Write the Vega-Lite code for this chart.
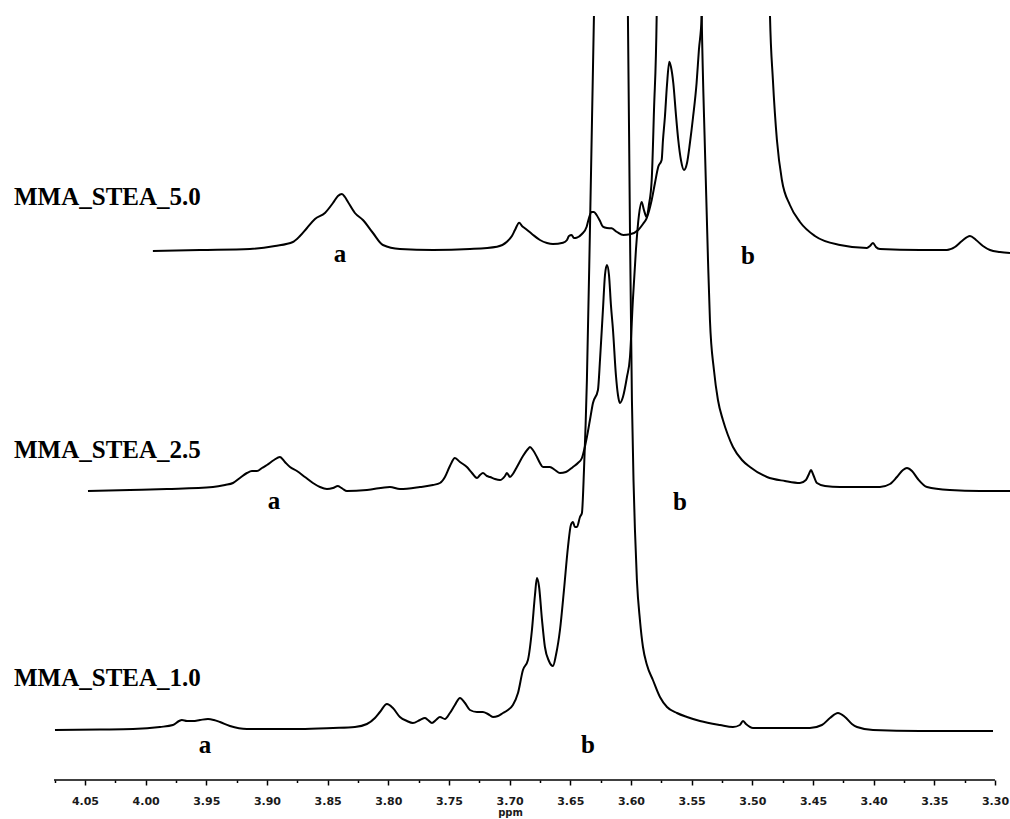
{
  "$schema": "https://vega.github.io/schema/vega-lite/v6.json",
  "width": 956,
  "height": 764,
  "autosize": {"type": "none"},
  "padding": {"left": 54, "top": 16, "right": 0, "bottom": 39},
  "background": "white",
  "config": {"view": {"stroke": null}},
  "datasets": {
    "spectra": [
      {"sample":"1.0","ppm":4.0747,"intensity":50},{"sample":"1.0","ppm":4.0376,"intensity":50.5},{"sample":"1.0","ppm":4.0104,"intensity":51},{"sample":"1.0","ppm":3.9882,"intensity":53},{"sample":"1.0","ppm":3.9775,"intensity":55},{"sample":"1.0","ppm":3.9725,"intensity":59},{"sample":"1.0","ppm":3.9701,"intensity":60},{"sample":"1.0","ppm":3.9659,"intensity":59},{"sample":"1.0","ppm":3.961,"intensity":59},{"sample":"1.0","ppm":3.9552,"intensity":60},{"sample":"1.0","ppm":3.9486,"intensity":61},{"sample":"1.0","ppm":3.9437,"intensity":60},{"sample":"1.0","ppm":3.9387,"intensity":58},{"sample":"1.0","ppm":3.9305,"intensity":54},{"sample":"1.0","ppm":3.9165,"intensity":51},{"sample":"1.0","ppm":3.8728,"intensity":51},{"sample":"1.0","ppm":3.8456,"intensity":52},{"sample":"1.0","ppm":3.8275,"intensity":53},{"sample":"1.0","ppm":3.8176,"intensity":56},{"sample":"1.0","ppm":3.811,"intensity":62},{"sample":"1.0","ppm":3.8069,"intensity":68},{"sample":"1.0","ppm":3.8011,"intensity":76},{"sample":"1.0","ppm":3.7962,"intensity":72},{"sample":"1.0","ppm":3.7904,"intensity":63},{"sample":"1.0","ppm":3.7846,"intensity":59},{"sample":"1.0","ppm":3.7797,"intensity":57},{"sample":"1.0","ppm":3.7739,"intensity":60},{"sample":"1.0","ppm":3.7698,"intensity":62},{"sample":"1.0","ppm":3.7673,"intensity":60},{"sample":"1.0","ppm":3.764,"intensity":57},{"sample":"1.0","ppm":3.7607,"intensity":60},{"sample":"1.0","ppm":3.7574,"intensity":63},{"sample":"1.0","ppm":3.7533,"intensity":61},{"sample":"1.0","ppm":3.7492,"intensity":67},{"sample":"1.0","ppm":3.7451,"intensity":75},{"sample":"1.0","ppm":3.7409,"intensity":82},{"sample":"1.0","ppm":3.7368,"intensity":77},{"sample":"1.0","ppm":3.7327,"intensity":70},{"sample":"1.0","ppm":3.7269,"intensity":68},{"sample":"1.0","ppm":3.722,"intensity":68},{"sample":"1.0","ppm":3.7179,"intensity":66},{"sample":"1.0","ppm":3.7137,"intensity":63},{"sample":"1.0","ppm":3.7096,"intensity":64},{"sample":"1.0","ppm":3.7055,"intensity":67},{"sample":"1.0","ppm":3.7014,"intensity":70},{"sample":"1.0","ppm":3.6973,"intensity":75},{"sample":"1.0","ppm":3.6931,"intensity":87},{"sample":"1.0","ppm":3.689,"intensity":110},{"sample":"1.0","ppm":3.6849,"intensity":120},{"sample":"1.0","ppm":3.6816,"intensity":150},{"sample":"1.0","ppm":3.6791,"intensity":185},{"sample":"1.0","ppm":3.6775,"intensity":202},{"sample":"1.0","ppm":3.6758,"intensity":194},{"sample":"1.0","ppm":3.6733,"intensity":160},{"sample":"1.0","ppm":3.6709,"intensity":133},{"sample":"1.0","ppm":3.6676,"intensity":119},{"sample":"1.0","ppm":3.6643,"intensity":114},{"sample":"1.0","ppm":3.6618,"intensity":125},{"sample":"1.0","ppm":3.6585,"intensity":150},{"sample":"1.0","ppm":3.6552,"intensity":190},{"sample":"1.0","ppm":3.6519,"intensity":233},{"sample":"1.0","ppm":3.6495,"intensity":255},{"sample":"1.0","ppm":3.6478,"intensity":258},{"sample":"1.0","ppm":3.6462,"intensity":253},{"sample":"1.0","ppm":3.6445,"intensity":253},{"sample":"1.0","ppm":3.642,"intensity":263},{"sample":"1.0","ppm":3.6404,"intensity":267},{"sample":"1.0","ppm":3.6387,"intensity":310},{"sample":"1.0","ppm":3.6363,"intensity":400},{"sample":"1.0","ppm":3.6338,"intensity":550},{"sample":"1.0","ppm":3.6321,"intensity":660},{"sample":"1.0","ppm":3.6305,"intensity":764},{"sample":"1.0","ppm":3.6288,"intensity":880},{"sample":"1.0","ppm":3.6173,"intensity":1180},{"sample":"1.0","ppm":3.6041,"intensity":880},{"sample":"1.0","ppm":3.6025,"intensity":764},{"sample":"1.0","ppm":3.6008,"intensity":550},{"sample":"1.0","ppm":3.5992,"intensity":380},{"sample":"1.0","ppm":3.5979,"intensity":300},{"sample":"1.0","ppm":3.5967,"intensity":250},{"sample":"1.0","ppm":3.5951,"intensity":200},{"sample":"1.0","ppm":3.5926,"intensity":160},{"sample":"1.0","ppm":3.5901,"intensity":133},{"sample":"1.0","ppm":3.5868,"intensity":115},{"sample":"1.0","ppm":3.5819,"intensity":100},{"sample":"1.0","ppm":3.5761,"intensity":83},{"sample":"1.0","ppm":3.5703,"intensity":73},{"sample":"1.0","ppm":3.5621,"intensity":67},{"sample":"1.0","ppm":3.5538,"intensity":63},{"sample":"1.0","ppm":3.5431,"intensity":59},{"sample":"1.0","ppm":3.5266,"intensity":55},{"sample":"1.0","ppm":3.5159,"intensity":53},{"sample":"1.0","ppm":3.5102,"intensity":55},{"sample":"1.0","ppm":3.5077,"intensity":59},{"sample":"1.0","ppm":3.5052,"intensity":56},{"sample":"1.0","ppm":3.4994,"intensity":52},{"sample":"1.0","ppm":3.4772,"intensity":52},{"sample":"1.0","ppm":3.4525,"intensity":52},{"sample":"1.0","ppm":3.4426,"intensity":55},{"sample":"1.0","ppm":3.436,"intensity":62},{"sample":"1.0","ppm":3.4294,"intensity":67},{"sample":"1.0","ppm":3.4236,"intensity":63},{"sample":"1.0","ppm":3.4179,"intensity":56},{"sample":"1.0","ppm":3.4137,"intensity":53},{"sample":"1.0","ppm":3.4005,"intensity":50},{"sample":"1.0","ppm":3.3618,"intensity":49},{"sample":"1.0","ppm":3.3016,"intensity":49},

      {"sample":"2.5","ppm":4.0475,"intensity":289},{"sample":"2.5","ppm":4.0129,"intensity":290},{"sample":"2.5","ppm":3.9824,"intensity":291},{"sample":"2.5","ppm":3.9445,"intensity":293},{"sample":"2.5","ppm":3.9346,"intensity":295},{"sample":"2.5","ppm":3.928,"intensity":297},{"sample":"2.5","ppm":3.9223,"intensity":302},{"sample":"2.5","ppm":3.9165,"intensity":307},{"sample":"2.5","ppm":3.9124,"intensity":309},{"sample":"2.5","ppm":3.9082,"intensity":309},{"sample":"2.5","ppm":3.9041,"intensity":312},{"sample":"2.5","ppm":3.9,"intensity":315},{"sample":"2.5","ppm":3.8942,"intensity":320},{"sample":"2.5","ppm":3.8893,"intensity":323},{"sample":"2.5","ppm":3.8852,"intensity":318},{"sample":"2.5","ppm":3.881,"intensity":313},{"sample":"2.5","ppm":3.8753,"intensity":309},{"sample":"2.5","ppm":3.8687,"intensity":303},{"sample":"2.5","ppm":3.8621,"intensity":297},{"sample":"2.5","ppm":3.8563,"intensity":293},{"sample":"2.5","ppm":3.8505,"intensity":291},{"sample":"2.5","ppm":3.8456,"intensity":292},{"sample":"2.5","ppm":3.8415,"intensity":294},{"sample":"2.5","ppm":3.8398,"intensity":293},{"sample":"2.5","ppm":3.8374,"intensity":291},{"sample":"2.5","ppm":3.8341,"intensity":289},{"sample":"2.5","ppm":3.8176,"intensity":290},{"sample":"2.5","ppm":3.7986,"intensity":293},{"sample":"2.5","ppm":3.7904,"intensity":291},{"sample":"2.5","ppm":3.7739,"intensity":293},{"sample":"2.5","ppm":3.7632,"intensity":295},{"sample":"2.5","ppm":3.7574,"intensity":297},{"sample":"2.5","ppm":3.7533,"intensity":303},{"sample":"2.5","ppm":3.7492,"intensity":314},{"sample":"2.5","ppm":3.7451,"intensity":322},{"sample":"2.5","ppm":3.7409,"intensity":318},{"sample":"2.5","ppm":3.7352,"intensity":313},{"sample":"2.5","ppm":3.731,"intensity":307},{"sample":"2.5","ppm":3.7269,"intensity":302},{"sample":"2.5","ppm":3.7244,"intensity":305},{"sample":"2.5","ppm":3.722,"intensity":307},{"sample":"2.5","ppm":3.7187,"intensity":304},{"sample":"2.5","ppm":3.7162,"intensity":303},{"sample":"2.5","ppm":3.7121,"intensity":301},{"sample":"2.5","ppm":3.708,"intensity":300},{"sample":"2.5","ppm":3.7038,"intensity":304},{"sample":"2.5","ppm":3.7022,"intensity":307},{"sample":"2.5","ppm":3.6997,"intensity":303},{"sample":"2.5","ppm":3.6973,"intensity":306},{"sample":"2.5","ppm":3.694,"intensity":313},{"sample":"2.5","ppm":3.689,"intensity":324},{"sample":"2.5","ppm":3.6849,"intensity":331},{"sample":"2.5","ppm":3.6832,"intensity":333},{"sample":"2.5","ppm":3.6808,"intensity":330},{"sample":"2.5","ppm":3.6775,"intensity":323},{"sample":"2.5","ppm":3.675,"intensity":317},{"sample":"2.5","ppm":3.6725,"intensity":313},{"sample":"2.5","ppm":3.6668,"intensity":313},{"sample":"2.5","ppm":3.6626,"intensity":310},{"sample":"2.5","ppm":3.6585,"intensity":307},{"sample":"2.5","ppm":3.6536,"intensity":308},{"sample":"2.5","ppm":3.6478,"intensity":313},{"sample":"2.5","ppm":3.6437,"intensity":317},{"sample":"2.5","ppm":3.6404,"intensity":322},{"sample":"2.5","ppm":3.6363,"intensity":343},{"sample":"2.5","ppm":3.6338,"intensity":360},{"sample":"2.5","ppm":3.6313,"intensity":377},{"sample":"2.5","ppm":3.6272,"intensity":390},{"sample":"2.5","ppm":3.6255,"intensity":420},{"sample":"2.5","ppm":3.6231,"intensity":470},{"sample":"2.5","ppm":3.6214,"intensity":505},{"sample":"2.5","ppm":3.6198,"intensity":515},{"sample":"2.5","ppm":3.6181,"intensity":505},{"sample":"2.5","ppm":3.6165,"intensity":475},{"sample":"2.5","ppm":3.6148,"intensity":450},{"sample":"2.5","ppm":3.6124,"intensity":405},{"sample":"2.5","ppm":3.6107,"intensity":385},{"sample":"2.5","ppm":3.6091,"intensity":377},{"sample":"2.5","ppm":3.6066,"intensity":383},{"sample":"2.5","ppm":3.6033,"intensity":403},{"sample":"2.5","ppm":3.6008,"intensity":423},{"sample":"2.5","ppm":3.5984,"intensity":480},{"sample":"2.5","ppm":3.5959,"intensity":530},{"sample":"2.5","ppm":3.5934,"intensity":565},{"sample":"2.5","ppm":3.5912,"intensity":578},{"sample":"2.5","ppm":3.5893,"intensity":570},{"sample":"2.5","ppm":3.5871,"intensity":563},{"sample":"2.5","ppm":3.5852,"intensity":575},{"sample":"2.5","ppm":3.5829,"intensity":600},{"sample":"2.5","ppm":3.581,"intensity":670},{"sample":"2.5","ppm":3.5788,"intensity":764},{"sample":"2.5","ppm":3.5778,"intensity":880},{"sample":"2.5","ppm":3.5596,"intensity":1180},{"sample":"2.5","ppm":3.5431,"intensity":880},{"sample":"2.5","ppm":3.5417,"intensity":764},{"sample":"2.5","ppm":3.539,"intensity":630},{"sample":"2.5","ppm":3.5365,"intensity":520},{"sample":"2.5","ppm":3.5349,"intensity":460},{"sample":"2.5","ppm":3.5316,"intensity":410},{"sample":"2.5","ppm":3.5283,"intensity":380},{"sample":"2.5","ppm":3.5242,"intensity":360},{"sample":"2.5","ppm":3.5201,"intensity":345},{"sample":"2.5","ppm":3.5159,"intensity":333},{"sample":"2.5","ppm":3.5085,"intensity":320},{"sample":"2.5","ppm":3.5019,"intensity":313},{"sample":"2.5","ppm":3.4879,"intensity":303},{"sample":"2.5","ppm":3.4731,"intensity":299},{"sample":"2.5","ppm":3.4607,"intensity":297},{"sample":"2.5","ppm":3.4558,"intensity":300},{"sample":"2.5","ppm":3.4533,"intensity":306},{"sample":"2.5","ppm":3.4516,"intensity":310},{"sample":"2.5","ppm":3.45,"intensity":306},{"sample":"2.5","ppm":3.4467,"intensity":297},{"sample":"2.5","ppm":3.4401,"intensity":294},{"sample":"2.5","ppm":3.4277,"intensity":293},{"sample":"2.5","ppm":3.3948,"intensity":293},{"sample":"2.5","ppm":3.3865,"intensity":296},{"sample":"2.5","ppm":3.3808,"intensity":303},{"sample":"2.5","ppm":3.3758,"intensity":310},{"sample":"2.5","ppm":3.3725,"intensity":312},{"sample":"2.5","ppm":3.3684,"intensity":309},{"sample":"2.5","ppm":3.3635,"intensity":301},{"sample":"2.5","ppm":3.356,"intensity":293},{"sample":"2.5","ppm":3.3371,"intensity":290},{"sample":"2.5","ppm":3.3124,"intensity":289},{"sample":"2.5","ppm":3.2876,"intensity":289},

      {"sample":"5.0","ppm":3.994,"intensity":529},{"sample":"5.0","ppm":3.9552,"intensity":530},{"sample":"5.0","ppm":3.914,"intensity":531},{"sample":"5.0","ppm":3.8934,"intensity":534},{"sample":"5.0","ppm":3.8786,"intensity":538},{"sample":"5.0","ppm":3.8728,"intensity":544},{"sample":"5.0","ppm":3.867,"intensity":552},{"sample":"5.0","ppm":3.8604,"intensity":561},{"sample":"5.0","ppm":3.8522,"intensity":567},{"sample":"5.0","ppm":3.8456,"intensity":577},{"sample":"5.0","ppm":3.8415,"intensity":584},{"sample":"5.0","ppm":3.8382,"intensity":586},{"sample":"5.0","ppm":3.8357,"intensity":583},{"sample":"5.0","ppm":3.8332,"intensity":578},{"sample":"5.0","ppm":3.8275,"intensity":567},{"sample":"5.0","ppm":3.8209,"intensity":560},{"sample":"5.0","ppm":3.8126,"intensity":547},{"sample":"5.0","ppm":3.8044,"intensity":535},{"sample":"5.0","ppm":3.7904,"intensity":531},{"sample":"5.0","ppm":3.7632,"intensity":530},{"sample":"5.0","ppm":3.7327,"intensity":531},{"sample":"5.0","ppm":3.7104,"intensity":533.3},{"sample":"5.0","ppm":3.7022,"intensity":538.3},{"sample":"5.0","ppm":3.6981,"intensity":544},{"sample":"5.0","ppm":3.6956,"intensity":550},{"sample":"5.0","ppm":3.6921,"intensity":557.3},{"sample":"5.0","ppm":3.6898,"intensity":554},{"sample":"5.0","ppm":3.6874,"intensity":551.7},{"sample":"5.0","ppm":3.6816,"intensity":546},{"sample":"5.0","ppm":3.675,"intensity":540},{"sample":"5.0","ppm":3.6692,"intensity":537},{"sample":"5.0","ppm":3.6643,"intensity":536},{"sample":"5.0","ppm":3.656,"intensity":537.3},{"sample":"5.0","ppm":3.6527,"intensity":540},{"sample":"5.0","ppm":3.6511,"intensity":544},{"sample":"5.0","ppm":3.6489,"intensity":545},{"sample":"5.0","ppm":3.647,"intensity":542},{"sample":"5.0","ppm":3.6448,"intensity":542.3},{"sample":"5.0","ppm":3.6404,"intensity":546},{"sample":"5.0","ppm":3.6365,"intensity":553.3},{"sample":"5.0","ppm":3.6346,"intensity":562},{"sample":"5.0","ppm":3.6324,"intensity":568},{"sample":"5.0","ppm":3.6305,"intensity":568},{"sample":"5.0","ppm":3.6283,"intensity":565},{"sample":"5.0","ppm":3.6255,"intensity":559},{"sample":"5.0","ppm":3.6231,"intensity":553.3},{"sample":"5.0","ppm":3.6198,"intensity":552},{"sample":"5.0","ppm":3.6159,"intensity":551.7},{"sample":"5.0","ppm":3.6115,"intensity":548},{"sample":"5.0","ppm":3.6063,"intensity":545},{"sample":"5.0","ppm":3.6008,"intensity":545.7},{"sample":"5.0","ppm":3.594,"intensity":550},{"sample":"5.0","ppm":3.5901,"intensity":556},{"sample":"5.0","ppm":3.5871,"intensity":561.7},{"sample":"5.0","ppm":3.5829,"intensity":580},{"sample":"5.0","ppm":3.5802,"intensity":597},{"sample":"5.0","ppm":3.5775,"intensity":613.3},{"sample":"5.0","ppm":3.5747,"intensity":620},{"sample":"5.0","ppm":3.5736,"intensity":640},{"sample":"5.0","ppm":3.572,"intensity":663.3},{"sample":"5.0","ppm":3.5703,"intensity":695},{"sample":"5.0","ppm":3.5684,"intensity":718.3},{"sample":"5.0","ppm":3.567,"intensity":713},{"sample":"5.0","ppm":3.5651,"intensity":697},{"sample":"5.0","ppm":3.5629,"intensity":665},{"sample":"5.0","ppm":3.561,"intensity":640},{"sample":"5.0","ppm":3.5588,"intensity":620},{"sample":"5.0","ppm":3.5563,"intensity":610},{"sample":"5.0","ppm":3.5538,"intensity":617},{"sample":"5.0","ppm":3.5514,"intensity":637},{"sample":"5.0","ppm":3.5489,"intensity":662},{"sample":"5.0","ppm":3.5459,"intensity":697},{"sample":"5.0","ppm":3.544,"intensity":730},{"sample":"5.0","ppm":3.5417,"intensity":764},{"sample":"5.0","ppm":3.5398,"intensity":880},{"sample":"5.0","ppm":3.5135,"intensity":1280},{"sample":"5.0","ppm":3.4871,"intensity":880},{"sample":"5.0","ppm":3.4854,"intensity":764},{"sample":"5.0","ppm":3.483,"intensity":700},{"sample":"5.0","ppm":3.4797,"intensity":640},{"sample":"5.0","ppm":3.4756,"intensity":600},{"sample":"5.0","ppm":3.469,"intensity":575},{"sample":"5.0","ppm":3.4607,"intensity":558},{"sample":"5.0","ppm":3.4484,"intensity":544},{"sample":"5.0","ppm":3.4277,"intensity":535},{"sample":"5.0","ppm":3.4055,"intensity":532},{"sample":"5.0","ppm":3.403,"intensity":534},{"sample":"5.0","ppm":3.4005,"intensity":537},{"sample":"5.0","ppm":3.3981,"intensity":533},{"sample":"5.0","ppm":3.3948,"intensity":531},{"sample":"5.0","ppm":3.3618,"intensity":530},{"sample":"5.0","ppm":3.3396,"intensity":530},{"sample":"5.0","ppm":3.333,"intensity":533},{"sample":"5.0","ppm":3.3272,"intensity":539},{"sample":"5.0","ppm":3.3206,"intensity":544},{"sample":"5.0","ppm":3.3156,"intensity":540},{"sample":"5.0","ppm":3.3099,"intensity":534},{"sample":"5.0","ppm":3.3041,"intensity":530},{"sample":"5.0","ppm":3.2959,"intensity":528},{"sample":"5.0","ppm":3.2876,"intensity":527}
    ],
    "names": [
      {"label":"MMA_STEA_5.0","ppm":4.0315,"intensity":575},
      {"label":"MMA_STEA_2.5","ppm":4.0315,"intensity":322},
      {"label":"MMA_STEA_1.0","ppm":4.0315,"intensity":94}
    ],
    "peaks": [
      {"label":"a","ppm":3.8398,"intensity":518},
      {"label":"b","ppm":3.5036,"intensity":516},
      {"label":"a","ppm":3.8942,"intensity":271},
      {"label":"b","ppm":3.5596,"intensity":270},
      {"label":"a","ppm":3.9511,"intensity":27},
      {"label":"b","ppm":3.6354,"intensity":27}
    ]
  },
  "resolve": {"axis": {"x": "independent"}},
  "layer": [
    {
      "data": {"name": "spectra"},
      "mark": {"type": "line", "clip": true, "color": "black", "strokeWidth": 2, "interpolate": "monotone"},
      "encoding": {
        "x": {
          "field": "ppm", "type": "quantitative",
          "scale": {"domain": [3.2876, 4.0755], "reverse": true, "nice": false, "zero": false},
          "axis": {
            "orient": "bottom",
            "values": [4.05,4.0,3.95,3.9,3.85,3.8,3.75,3.7,3.65,3.6,3.55,3.5,3.45,3.4,3.35,3.3],
            "format": ".2f",
            "domain": false, "grid": false,
            "tickColor": "black", "tickWidth": 1.5, "tickSize": 5,
            "labelFont": "DejaVu Sans", "labelFontSize": 11, "labelFontWeight": "bold", "labelColor": "#1a1a1a",
            "labelPadding": 10, "labelFlush": false, "labelOverlap": false,
            "title": "ppm", "titleFont": "DejaVu Sans", "titleFontSize": 10, "titleFontWeight": "bold", "titleColor": "#1a1a1a",
            "titleX": 456, "titleY": 35, "titleBaseline": "alphabetic", "titleAlign": "center"
          }
        },
        "y": {
          "field": "intensity", "type": "quantitative",
          "scale": {"domain": [0, 764], "nice": false, "zero": false},
          "axis": null
        },
        "detail": {"field": "sample", "type": "nominal"}
      }
    },
    {
      "data": {"values": [{}]},
      "mark": {"type": "rule", "color": "black", "strokeWidth": 1.6},
      "encoding": {
        "x": {
          "datum": 4.0755, "type": "quantitative",
          "axis": {
            "orient": "bottom",
            "values": [4.075,4.025,3.975,3.925,3.875,3.825,3.775,3.725,3.675,3.625,3.575,3.525,3.475,3.425,3.375,3.325],
            "labels": false, "domain": false, "grid": false, "title": null,
            "tickColor": "black", "tickWidth": 1.5, "tickSize": 2.5
          }
        },
        "x2": {"datum": 3.3},
        "y": {"datum": 0, "type": "quantitative", "axis": null}
      }
    },
    {
      "data": {"name": "names"},
      "mark": {"type": "text", "font": "Liberation Serif", "fontWeight": "bold", "fontSize": 25, "align": "center", "baseline": "alphabetic", "color": "black"},
      "encoding": {
        "x": {"field": "ppm", "type": "quantitative", "axis": null},
        "y": {"field": "intensity", "type": "quantitative", "axis": null},
        "text": {"field": "label"}
      }
    },
    {
      "data": {"name": "peaks"},
      "mark": {"type": "text", "font": "Liberation Serif", "fontWeight": "bold", "fontSize": 25, "align": "center", "baseline": "alphabetic", "color": "black"},
      "encoding": {
        "x": {"field": "ppm", "type": "quantitative", "axis": null},
        "y": {"field": "intensity", "type": "quantitative", "axis": null},
        "text": {"field": "label"}
      }
    }
  ]
}
